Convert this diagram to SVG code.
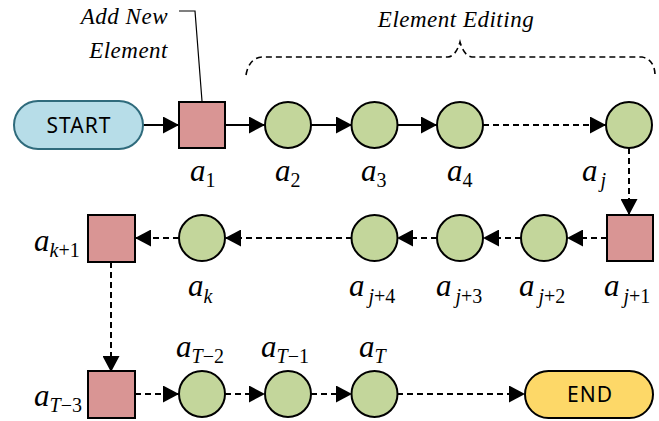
<svg xmlns="http://www.w3.org/2000/svg" width="659" height="421" viewBox="0 0 659 421">
<defs>
<marker id="arr" markerWidth="16" markerHeight="17" refX="16" refY="8.5" orient="auto" markerUnits="userSpaceOnUse">
<path d="M0,0 L16,8.5 L0,17 Z" fill="#000"/>
</marker>
<style>
.sq{fill:#d99594;stroke:#000;stroke-width:2}
.ci{fill:#c3d69b;stroke:#000;stroke-width:2}
.c{fill:none;stroke:#000;stroke-width:2;marker-end:url(#arr)}
.d{stroke-dasharray:6 4}
.lab{font-family:"Liberation Serif","Times New Roman",serif;font-style:italic;font-size:31px;fill:#000}
.sub{font-size:20px}
.up{font-style:normal}
.note{font-family:"Liberation Serif","Times New Roman",serif;font-style:italic;font-size:23px;fill:#000;letter-spacing:0.5px}
.term{font-family:"Noto Sans","Open Sans",sans-serif;font-size:21px;fill:#000;text-anchor:middle;letter-spacing:1px}
</style>
</defs>
<rect width="659" height="421" fill="#fff"/>

<g id="annotations">
<text class="note" x="168" y="24" text-anchor="end">Add New</text>
<text class="note" x="168" y="58" text-anchor="end">Element</text>
<path d="M179,11 L195,11 L202,101" fill="none" stroke="#000" stroke-width="1.2"/>
<text class="note" x="456" y="27" text-anchor="middle">Element Editing</text>
<path d="M246,75 Q249,58 262,57 L448,57 Q456,56 460,42 Q464,56 472,57 L642,57 Q654,59 655,74" fill="none" stroke="#000" stroke-width="1.6" stroke-dasharray="6 4"/>
</g>

<g id="connectors">
<path class="c" d="M143,125 L179,125"/>
<path class="c" d="M225,125 L265,125"/>
<path class="c" d="M311,125 L352,125"/>
<path class="c" d="M397,125 L437,125"/>
<path class="c d" d="M483,125 L606,125"/>
<path class="c d" d="M629,148 L629,215"/>
<path class="c d" d="M607,238 L567,238"/>
<path class="c d" d="M521,238 L483,238"/>
<path class="c d" d="M437,238 L397,238"/>
<path class="c d" d="M352,238 L225,238"/>
<path class="c d" d="M179,238 L135,238"/>
<path class="c d" d="M111,262 L111,372"/>
<path class="c d" d="M135,394 L179,394"/>
<path class="c d" d="M225,394 L265,394"/>
<path class="c d" d="M311,394 L352,394"/>
<path class="c d" d="M397,394 L525,394"/>
</g>

<g id="start">
<rect x="14" y="101" width="129" height="48" rx="24" fill="#b7dde8" stroke="#2f6b7c" stroke-width="2"/>
<text class="term" x="79" y="133">START</text>
</g>
<g id="a1"><rect class="sq" x="179" y="102" width="46" height="46"/>
<text class="lab" x="190" y="181">a<tspan class="sub up" dy="6">1</tspan></text></g>
<g id="a2"><circle class="ci" cx="288" cy="125" r="23"/>
<text class="lab" x="275" y="181">a<tspan class="sub up" dy="6">2</tspan></text></g>
<g id="a3"><circle class="ci" cx="374.5" cy="125" r="23"/>
<text class="lab" x="361" y="181">a<tspan class="sub up" dy="6">3</tspan></text></g>
<g id="a4"><circle class="ci" cx="460" cy="125" r="23"/>
<text class="lab" x="447" y="181">a<tspan class="sub up" dy="6">4</tspan></text></g>
<g id="aj"><circle class="ci" cx="629" cy="125" r="23"/>
<text class="lab" x="582" y="181">a<tspan class="sub" dx="3" dy="6">j</tspan></text></g>

<g id="aj1"><rect class="sq" x="607" y="215" width="46" height="46"/>
<text class="lab" x="604" y="296">a<tspan class="sub" dx="4" dy="7">j</tspan><tspan class="sub up">+1</tspan></text></g>
<g id="aj2"><circle class="ci" cx="544" cy="238" r="23"/>
<text class="lab" x="519" y="296">a<tspan class="sub" dx="4" dy="7">j</tspan><tspan class="sub up">+2</tspan></text></g>
<g id="aj3"><circle class="ci" cx="460" cy="238" r="23"/>
<text class="lab" x="436" y="296">a<tspan class="sub" dx="4" dy="7">j</tspan><tspan class="sub up">+3</tspan></text></g>
<g id="aj4"><circle class="ci" cx="374.5" cy="238" r="23"/>
<text class="lab" x="349" y="296">a<tspan class="sub" dx="4" dy="7">j</tspan><tspan class="sub up">+4</tspan></text></g>
<g id="ak"><circle class="ci" cx="202" cy="238" r="23"/>
<text class="lab" x="188" y="296">a<tspan class="sub" dy="7">k</tspan></text></g>
<g id="ak1"><rect class="sq" x="88" y="215" width="47" height="47"/>
<text class="lab" x="34" y="251">a<tspan class="sub" dy="6">k</tspan><tspan class="sub up">+1</tspan></text></g>

<g id="aT3"><rect class="sq" x="88" y="371" width="47" height="47"/>
<text class="lab" x="34" y="406">a<tspan class="sub" dy="6">T</tspan><tspan class="sub up">−3</tspan></text></g>
<g id="aT2"><circle class="ci" cx="202" cy="394" r="23"/>
<text class="lab" x="176" y="357">a<tspan class="sub" dy="6">T</tspan><tspan class="sub up">−2</tspan></text></g>
<g id="aT1"><circle class="ci" cx="288" cy="394" r="23"/>
<text class="lab" x="261" y="357">a<tspan class="sub" dy="6">T</tspan><tspan class="sub up">−1</tspan></text></g>
<g id="aT"><circle class="ci" cx="374.5" cy="394" r="23"/>
<text class="lab" x="359" y="357">a<tspan class="sub" dy="6">T</tspan></text></g>
<g id="end">
<rect x="525" y="371" width="128" height="47" rx="23.5" fill="#fdd868" stroke="#000" stroke-width="2"/>
<text class="term" x="590" y="402">END</text>
</g>
</svg>
